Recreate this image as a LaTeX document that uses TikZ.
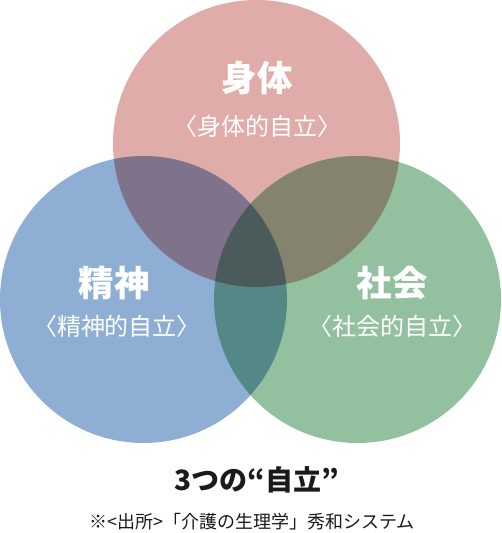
\documentclass[tikz,border=0pt]{standalone}
\usepackage{fontspec}
\setmainfont{Noto Sans CJK JP}
\definecolor{bodyc}{HTML}{E0ACA9}
\definecolor{mindc}{HTML}{8FAED4}
\definecolor{socc}{HTML}{93C1A0}
\definecolor{bmc}{HTML}{7F738C}
\definecolor{bsc}{HTML}{84836D}
\definecolor{msc}{HTML}{548887}
\definecolor{allc}{HTML}{4B5A5A}
\definecolor{ink}{HTML}{1A1A1A}
\newcommand{\rr}{143.5}

\begin{document}
\begin{tikzpicture}[x=1pt, y=1pt,
  head/.style={text=white, inner sep=0pt, font=\fontsize{35.5}{35.5}\selectfont\bfseries},
  sub/.style={text=white, inner sep=0pt, font=\fontsize{24}{24}\selectfont},
  ttl/.style={text=ink, inner sep=0pt, font=\fontsize{28}{28}\selectfont\bfseries},
  src/.style={text=ink, inner sep=0pt, font=\fontsize{18}{18}\selectfont}]
  \useasboundingbox (0,0) rectangle (501,533);
  \coordinate (B) at (256.5,389.5);
  \coordinate (M) at (143.5,233.5);
  \coordinate (S) at (357.5,233.5);
  % circles
  \fill[bodyc] (B) circle (\rr);
  \fill[mindc] (M) circle (\rr);
  \fill[socc] (S) circle (\rr);
  % overlaps
  \begin{scope}
    \clip (M) circle (\rr);
    \fill[msc] (S) circle (\rr);
  \end{scope}
  \begin{scope}
    \clip (B) circle (\rr);
    \fill[bmc] (M) circle (\rr);
    \fill[bsc] (S) circle (\rr);
    \clip (M) circle (\rr);
    \fill[allc] (S) circle (\rr);
  \end{scope}
  % labels
  \node[head] (bodyh) at (257,455) {身体};
  \node[sub] (bodys) at (257,407) {〈身体的自立〉};
  \node[head] (mindh) at (114,250) {精神};
  \node[sub] (minds) at (117,207) {〈精神的自立〉};
  \node[head] (soch) at (392,250) {社会};
  \node[sub] (socs) at (392,207) {〈社会的自立〉};
  \node[ttl] (title) at (257,53) {3つの“自立”};
  \node[src] (source) at (252,11) {※<出所>「介護の生理学」秀和システム};
\end{tikzpicture}
\end{document}
